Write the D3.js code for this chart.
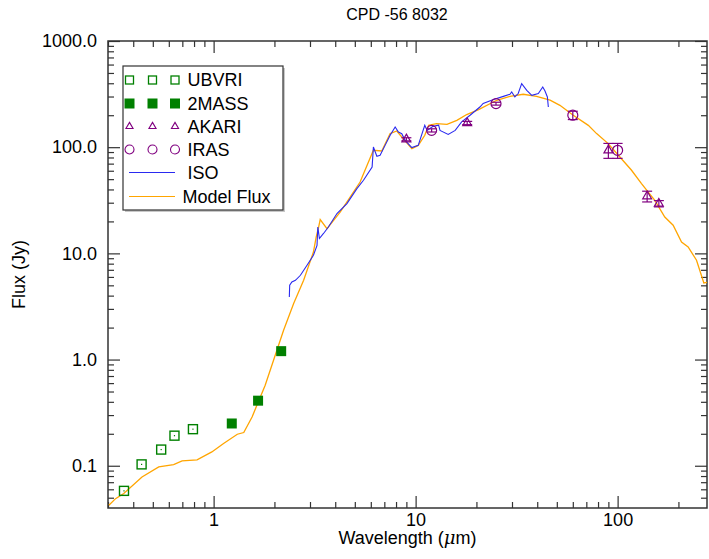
<!DOCTYPE html>
<html>
<head>
<meta charset="utf-8">
<script src="https://cdn.jsdelivr.net/npm/d3@7"></script>
<style>
  body { margin: 0; background: #fff; }
  text { font-family: "Liberation Sans", Arial, sans-serif; }
</style>
</head>
<body>
<div id="chart"></div>
<script>
// SED of CPD -56 8032

const ubvriWave = [0.36, 0.44, 0.55, 0.64, 0.79];
const ubvriFlux = [0.058, 0.103, 0.142, 0.192, 0.221];

const twomassWave = [1.23, 1.66, 2.16];
const twomassFlux = [0.25, 0.41, 1.2];

const akariWave = [9, 18, 90, 140, 160];
const akariFlux = [118.7, 169, 93.5, 34.5, 29.4];
const akariErr = [4, 6, 15, 4, 2];

const irasWave = [12, 25, 60, 100];
const irasFlux = [144, 257, 200, 93.5];
const irasErr = [5, 8, 18, 15];

const isoWave = [2.37, 2.38, 2.44, 2.54, 2.69, 2.90, 3.12, 3.25, 3.28, 3.34, 3.50, 3.70, 4.08, 4.57, 5.12, 5.52,
  6.09, 6.18, 6.43, 6.67, 7.06, 7.48, 7.92, 8.22, 8.54, 8.87, 9.58, 10.3, 11.1, 11.4, 12.2, 13.0, 13.2, 14.5,
  15.7, 16.9, 18.6, 20.8, 21.6, 24.3, 27.2, 29.3, 29.9, 31.0, 32.2, 33.5, 35.5, 37.6, 40.5, 42.6, 43.7, 44.9, 45.4];
const isoFlux = [3.89, 5.01, 5.38, 5.58, 6.22, 7.73, 9.6, 11.9, 17.7, 13.8, 15.4, 17.7, 23.7, 29.4, 40.7, 48.8,
  65.1, 100.5, 82.1, 83.9, 104, 129.5, 155, 139, 134, 116, 99.1, 104, 161, 144, 157, 161, 144, 132,
  144, 173, 200, 239, 258, 281, 301, 315, 331, 297, 320, 397, 343, 308, 320, 369, 338, 297, 239];

const modelWave = [0.303, 0.327, 0.359, 0.442, 0.535, 0.634, 0.698, 0.828, 0.98, 1.12, 1.31, 1.41, 1.55, 1.80,
  2.22, 2.49, 2.79, 3.12, 3.22, 3.31, 3.37, 3.64, 4.23, 4.75, 5.31, 6.18, 6.80, 7.48, 8.07, 8.54, 9.58, 10.3,
  11.1, 11.6, 12.7, 14.3, 16.0, 17.9, 20.5, 25.2, 29.3, 34.1, 39.7, 46.3, 51.8, 60.3, 71.6, 78.7, 89.8, 102.6,
  117.2, 131.3, 152.8, 171.2, 188.3, 207.2, 223.4, 245.8, 267.2, 283];
const modelFlux = [0.0425, 0.049, 0.0547, 0.0785, 0.0975, 0.1026, 0.111, 0.1135, 0.135, 0.162, 0.198, 0.2055, 0.288, 0.573,
  1.89, 3.37, 5.58, 10.3, 14.3, 17.7, 20.8, 17.1, 24.5, 34.0, 47.0, 93.5, 92.1, 134.3, 142, 124.8, 97, 104,
  129.5, 161, 167, 164, 179, 203, 226, 276.6, 301, 315, 301, 277, 248, 199.5, 160.6, 134.3, 108.1, 80.9,
  60.6, 45.4, 31.6, 22.0, 18.4, 12.8, 11.5, 8.61, 5.26, 5.38];

const xMajor = [1, 10, 100];
const xMinor = [0.3, 0.4, 0.5, 0.6, 0.7, 0.8, 0.9, 2, 3, 4, 5, 6, 7, 8, 9, 20, 30, 40, 50, 60, 70, 80, 90, 200];
const yMajor = [0.1, 1, 10, 100, 1000];
const yMinor = [0.05, 0.06, 0.07, 0.08, 0.09, 0.2, 0.3, 0.4, 0.5, 0.6, 0.7, 0.8, 0.9,
  2, 3, 4, 5, 6, 7, 8, 9, 20, 30, 40, 50, 60, 70, 80, 90, 200, 300, 400, 500, 600, 700, 800, 900];

const legendNames = ["UBVRI", "2MASS", "AKARI", "IRAS", "ISO", "Model Flux"];

const W = 709, H = 559;
const margin = {top: 41, right: 2, bottom: 51, left: 108};
const width = W - margin.left - margin.right;
const height = H - margin.top - margin.bottom;

const green = "#008000", purple = "#800080", blue = "#2a2af0", orange = "#ffa500", axisCol = "#333";

const svg = d3.select("#chart").append("svg")
    .attr("width", W)
    .attr("height", H);

const g = svg.append("g")
    .attr("transform", `translate(${margin.left},${margin.top})`);

const x = d3.scaleLog().domain([0.3, 277]).range([0, width]);
const y = d3.scaleLog().domain([0.04, 1000]).range([height, 0]);

// Title
svg.append("text")
    .attr("x", 397)
    .attr("y", 20)
    .attr("text-anchor", "middle")
    .style("font-size", "16px")
    .text("CPD -56 8032");

// Axes (ticks point inward)
function addAxis(axisFn, scale, major, minor, fmt, pad, transform) {
    const a1 = g.append("g").attr("transform", transform)
        .call(axisFn(scale).tickValues(minor).tickSize(-6).tickFormat(""));
    const a2 = g.append("g").attr("transform", transform)
        .call(axisFn(scale).tickValues(major).tickSize(-12).tickPadding(pad).tickFormat(fmt || ""));
    [a1, a2].forEach(a => {
        a.select(".domain").remove();
        a.selectAll("line").attr("stroke", axisCol).attr("stroke-width", 1.2);
        a.selectAll("text").style("font-size", "18px").attr("fill", "#000")
            .style("font-family", "'Liberation Sans', Arial, sans-serif");
    });
    return a2;
}

addAxis(d3.axisBottom, x, xMajor, xMinor, d => d3.format("d")(d), 5, `translate(0,${height})`);
addAxis(d3.axisTop, x, xMajor, xMinor, null, 0, "translate(0,0)");
addAxis(d3.axisLeft, y, yMajor, yMinor, d => d3.format(".1f")(d), 11, "translate(0,0)");
addAxis(d3.axisRight, y, yMajor, yMinor, null, 0, `translate(${width},0)`);

// frame
g.append("rect")
    .attr("width", width)
    .attr("height", height)
    .attr("fill", "none")
    .attr("stroke", axisCol)
    .attr("stroke-width", 1.5);

// axis titles
svg.append("text")
    .attr("x", margin.left + width / 2)
    .attr("y", 544)
    .attr("text-anchor", "middle")
    .style("font-size", "18px")
    .html("Wavelength (<tspan font-style='italic' font-family='DejaVu Serif'>μ</tspan>m)");

svg.append("text")
    .attr("transform", `translate(25,${margin.top + height / 2}) rotate(-90)`)
    .attr("text-anchor", "middle")
    .style("font-size", "18px")
    .text("Flux (Jy)");

// clip
svg.append("defs").append("clipPath").attr("id", "clip")
    .append("rect").attr("width", width).attr("height", height);

const plot = g.append("g").attr("clip-path", "url(#clip)");

const line = d3.line().x(d => x(d[0])).y(d => y(d[1]));

plot.append("path")
    .datum(modelWave.map((w, i) => [w, modelFlux[i]]))
    .attr("d", line)
    .attr("fill", "none")
    .attr("stroke", orange)
    .attr("stroke-width", 1.3);

plot.append("path")
    .datum(isoWave.map((w, i) => [w, isoFlux[i]]))
    .attr("d", line)
    .attr("fill", "none")
    .attr("stroke", blue)
    .attr("stroke-width", 1.1);

// UBVRI open squares with centre dot
const ubvri = plot.append("g").selectAll("g")
    .data(ubvriWave.map((w, i) => [w, ubvriFlux[i]]))
    .enter().append("g")
    .attr("transform", d => `translate(${x(d[0])},${y(d[1])})`);
ubvri.append("rect")
    .attr("x", -4.5).attr("y", -4.5).attr("width", 9).attr("height", 9)
    .attr("fill", "none").attr("stroke", green).attr("stroke-width", 1.4);
ubvri.append("rect")
    .attr("x", -0.6).attr("y", -0.6).attr("width", 1.2).attr("height", 1.2)
    .attr("fill", green);

// 2MASS filled squares
plot.append("g").selectAll("rect")
    .data(twomassWave.map((w, i) => [w, twomassFlux[i]]))
    .enter().append("rect")
    .attr("x", d => x(d[0]) - 5)
    .attr("y", d => y(d[1]) - 5)
    .attr("width", 10).attr("height", 10)
    .attr("fill", green);

// error bars
function errorBars(wave, flux, err, capW) {
    const eb = plot.append("g").selectAll("g")
        .data(wave.map((w, i) => [w, flux[i], err[i]]))
        .enter().append("g")
        .attr("stroke", purple).attr("stroke-width", 1.2);
    eb.append("line")
        .attr("x1", d => x(d[0])).attr("x2", d => x(d[0]))
        .attr("y1", d => y(d[1] + d[2])).attr("y2", d => y(d[1] - d[2]));
    eb.append("line")
        .attr("x1", d => x(d[0]) - capW).attr("x2", d => x(d[0]) + capW)
        .attr("y1", d => y(d[1] + d[2])).attr("y2", d => y(d[1] + d[2]));
    eb.append("line")
        .attr("x1", d => x(d[0]) - capW).attr("x2", d => x(d[0]) + capW)
        .attr("y1", d => y(d[1] - d[2])).attr("y2", d => y(d[1] - d[2]));
}
errorBars(akariWave, akariFlux, akariErr, 5);
errorBars(irasWave, irasFlux, irasErr, 5);

const tri = d3.symbol().type(d3.symbolTriangle).size(34);

plot.append("g").selectAll("path")
    .data(akariWave.map((w, i) => [w, akariFlux[i]]))
    .enter().append("path")
    .attr("d", tri)
    .attr("transform", d => `translate(${x(d[0])},${y(d[1])})`)
    .attr("fill", "none").attr("stroke", purple).attr("stroke-width", 1.2);

plot.append("g").selectAll("circle")
    .data(irasWave.map((w, i) => [w, irasFlux[i]]))
    .enter().append("circle")
    .attr("cx", d => x(d[0])).attr("cy", d => y(d[1]))
    .attr("r", 5)
    .attr("fill", "none").attr("stroke", purple).attr("stroke-width", 1.2);

// Legend
const lg = svg.append("g").attr("transform", "translate(123,66)");
lg.append("rect")
    .attr("x", 2).attr("y", 2).attr("width", 160).attr("height", 144)
    .attr("fill", "#c8c8c8");
lg.append("rect")
    .attr("width", 160).attr("height", 144)
    .attr("fill", "#fff").attr("stroke", axisCol).attr("stroke-width", 1.2);

const rowY = [14, 37.5, 60.5, 83.5, 106.5, 130.5];
const symX = [6.5, 29.5, 52];

const rows = lg.selectAll("g.row")
    .data(legendNames)
    .enter().append("g")
    .attr("class", "row")
    .attr("transform", (d, i) => `translate(0,${rowY[i]})`);

rows.append("text")
    .attr("x", (d, i) => i === 5 ? 59.5 : 64.5)
    .attr("y", 0)
    .attr("dy", "0.35em")
    .style("font-size", "18px")
    .text(d => d);

rows.each(function(d, i) {
    const r = d3.select(this);
    if (i === 0) {
        symX.forEach(sx => r.append("rect").attr("x", sx - 4).attr("y", -4).attr("width", 8).attr("height", 8)
            .attr("fill", "none").attr("stroke", green).attr("stroke-width", 1.3));
    } else if (i === 1) {
        symX.forEach(sx => r.append("rect").attr("x", sx - 5).attr("y", -5).attr("width", 10).attr("height", 10)
            .attr("fill", green));
    } else if (i === 2) {
        symX.forEach(sx => r.append("path").attr("d", d3.symbol().type(d3.symbolTriangle).size(22))
            .attr("transform", `translate(${sx},0)`)
            .attr("fill", "none").attr("stroke", purple).attr("stroke-width", 1.1));
    } else if (i === 3) {
        symX.forEach(sx => r.append("circle").attr("cx", sx).attr("cy", 0).attr("r", 4.5)
            .attr("fill", "none").attr("stroke", purple).attr("stroke-width", 1.1));
    } else {
        r.append("line").attr("x1", 6).attr("x2", 52).attr("y1", 0).attr("y2", 0)
            .attr("stroke", i === 4 ? blue : orange).attr("stroke-width", 1.2);
    }
});
</script>
</body>
</html>
